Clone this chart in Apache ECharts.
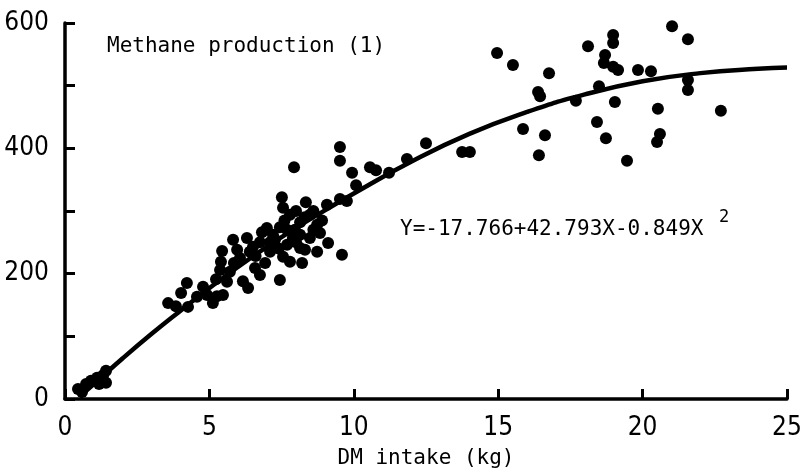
<!DOCTYPE html>
<html>
<head>
<meta charset="utf-8">
<script src="https://cdn.jsdelivr.net/npm/echarts@6/dist/echarts.min.js"></script>
<style>html,body{margin:0;padding:0;background:#fff}#c{width:801px;height:469px}</style>
</head>
<body>
<div id="c"></div>
<script>
// DM intake (kg) of each observation
const intakeX = [
  0.45,0.59,0.73,0.90,1.11,1.32,1.42,1.42,1.18,
  3.57,3.84,4.02,4.22,4.26,4.57,4.78,5.12,5.26,5.23,5.47,4.92,5.37,5.44,5.40,5.61,5.71,5.82,5.85,5.96,
  6.06,6.16,6.34,6.30,6.51,6.58,6.75,6.75,6.93,6.99,7.10,7.44,7.44,7.55,7.51,7.55,7.69,7.79,7.79,7.89,
  7.93,8.14,8.14,8.14,8.21,8.34,8.48,8.73,8.73,8.83,9.07,9.11,9.52,9.59,7.69,7.96,8.48,7.27,6.82,8.31,
  7.20,7.60,8.00,8.30,8.60,8.00,7.40,8.90,7.10,6.60,6.40,8.60,
  9.76,9.52,9.52,9.94,10.08,10.56,10.77,11.22,11.84,12.50,13.75,14.02,
  14.96,15.51,16.76,16.38,16.45,15.86,16.62,16.41,17.69,18.11,18.98,18.98,18.70,18.66,18.98,19.15,
  18.49,19.04,18.42,18.73,19.46,19.84,20.29,20.53,20.60,20.50,21.02,21.57,21.57,21.57,22.71
];
// Methane production (l) of each observation
const methaneY = [
  16,11,24,29,34,38,45,26,24,
  153,148,169,185,147,163,179,153,164,191,166,166,206,236,219,187,203,254,217,238,
  225,188,177,257,243,209,250,198,217,273,235,274,190,305,322,227,246,294,219,257,
  370,282,262,241,217,314,257,278,235,265,310,249,319,230,270,270,294,254,266,238,
  262,285,300,290,270,250,240,285,250,228,235,300,
  316,402,380,361,341,370,365,361,383,408,394,394,
  552,533,520,490,483,431,421,389,476,563,581,568,549,536,530,525,
  499,474,442,416,380,525,523,463,423,410,595,574,509,493,460
];
// fitted curve
const curveX = [0.5,1,2,3,4,5,6,7,8,9,10,12,14,16,18,20,22,24,25];
const curveY = [4,24,65,104,141,177,211,243,273,301,328,379,423,458,486,507,520,527,529];

const xTicks = [0,5,10,15,20,25];
const yLabels = [0,200,400,600];
const plotTitle = 'Methane production (1)';
const equation = 'Y=-17.766+42.793X-0.849X';
const eqExp = '2';
const xName = 'DM intake (kg)';

const scatterData = intakeX.map((x,i)=>[x, methaneY[i]]);
const curveData = curveX.map((x,i)=>[x, curveY[i]]);

const monoFont = '"DejaVu Sans Mono", "Liberation Mono", monospace';
const numFont = '"Liberation Sans Narrow", "DejaVu Sans Condensed", "Liberation Sans", sans-serif';

const chart = echarts.init(document.getElementById('c'), null, {renderer:'canvas'});
chart.setOption({
  animation: false,
  backgroundColor: '#fff',
  grid: {left: 65, top: 23, width: 722, height: 376, containLabel: false, outerBoundsMode: 'none'},
  xAxis: {
    type: 'value', min: 0, max: 25, interval: 5,
    name: xName, nameLocation: 'middle', nameGap: 49,
    nameTextStyle: {color:'#000', fontFamily: monoFont, fontSize: 21},
    axisLine: {show: true, onZero: false, lineStyle: {color:'#000', width: 3.5}},
    axisTick: {show: true, inside: true, length: 10, lineStyle: {color:'#000', width: 3}},
    axisLabel: {color:'#000', fontFamily: numFont, fontSize: 26, margin: 16,
      formatter: v => xTicks.includes(v) ? String(v) : ''},
    splitLine: {show: false}
  },
  yAxis: {
    type: 'value', min: 0, max: 600, interval: 100,
    axisLine: {show: true, onZero: false, lineStyle: {color:'#000', width: 3.5}},
    axisTick: {show: true, inside: true, length: 10, lineStyle: {color:'#000', width: 3}},
    axisLabel: {color:'#000', fontFamily: numFont, fontSize: 26, margin: 16,
      formatter: v => yLabels.includes(v) ? String(v) : ''},
    splitLine: {show: false}
  },
  series: [
    {
      type: 'scatter', data: scatterData, symbol: 'circle', symbolSize: 12,
      itemStyle: {color: '#000', opacity: 1}, z: 2
    },
    {
      type: 'line', data: curveData, smooth: true, showSymbol: false,
      lineStyle: {color:'#000', width: 4.5}, z: 3
    }
  ],
  graphic: [
    {type:'text', left: 107, top: 36, style: {text: plotTitle, fill:'#000', font: '21px ' + monoFont}},
    {type:'text', left: 400, top: 219, style: {text: equation, fill:'#000', font: '21px ' + monoFont}},
    {type:'text', left: 719, top: 209, style: {text: eqExp, fill:'#000', font: '17px ' + monoFont}}
  ]
});
</script>
</body>
</html>
